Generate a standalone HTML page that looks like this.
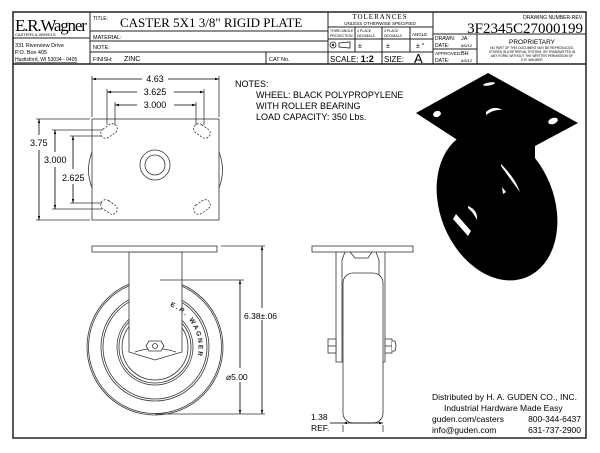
<!DOCTYPE html>
<html><head><meta charset="utf-8"><style>
html,body{margin:0;padding:0;background:#fff;}
svg{display:block;font-family:"Liberation Sans",Arial,sans-serif;}
</style></head><body>
<svg width="600" height="453" viewBox="0 0 600 453" xmlns="http://www.w3.org/2000/svg">
<defs>
<marker id="a" viewBox="0 0 10 10" refX="10" refY="5" markerWidth="7" markerHeight="5" orient="auto-start-reverse"><path d="M0,2 L10,5 L0,8z" fill="#000"/></marker>
<path id="wp" d="M170,306 A44,44 0 0 1 196,362" fill="none"/>
</defs>
<rect width="600" height="453" fill="#fff"/>
<rect x="13" y="12" width="573" height="426" fill="none" stroke="#222" stroke-width="1.5"/>
<g stroke="#222" stroke-width="1" fill="none">
<line x1="13" y1="64" x2="586" y2="64" stroke-width="1.5"/>
<line x1="90" y1="12" x2="90" y2="64"/>
<line x1="328" y1="12" x2="328" y2="64"/>
<line x1="433" y1="12" x2="433" y2="64"/>
<line x1="90" y1="31" x2="328" y2="31"/>
<line x1="90" y1="41" x2="328" y2="41"/>
<line x1="90" y1="52" x2="328" y2="52"/>
<line x1="266" y1="52" x2="266" y2="64"/>
<line x1="328" y1="27" x2="433" y2="27"/>
<line x1="328" y1="39" x2="433" y2="39"/>
<line x1="328" y1="52" x2="433" y2="52"/>
<line x1="355" y1="27" x2="355" y2="52"/>
<line x1="382" y1="27" x2="382" y2="64"/>
<line x1="410" y1="27" x2="410" y2="52"/>
<line x1="433" y1="34" x2="586" y2="34"/>
<line x1="477" y1="34" x2="477" y2="64"/>
<line x1="433" y1="49" x2="477" y2="49"/>
<line x1="13" y1="38" x2="90" y2="38"/>
</g>
<text x="15" y="31" font-family="Liberation Serif,serif" font-size="17" letter-spacing="-1.2">E.R.Wagner</text>
<text x="15" y="36" font-size="4">CASTERS &amp; WHEELS</text>
<text x="15" y="47" font-size="5.5">331 Riverview Drive</text>
<text x="15" y="54" font-size="5.5">P.O. Box 405</text>
<text x="15" y="61" font-size="5" text-decoration="underline">Hustisford, WI 53034 - 0405</text>
<text x="93" y="20" font-size="5">TITLE:</text>
<text x="120" y="27" font-family="Liberation Serif,serif" font-size="13">CASTER 5X1 3/8" RIGID PLATE</text>
<text x="93" y="39" font-size="5.5">MATERIAL:</text>
<text x="93" y="49" font-size="5.5">NOTE:</text>
<text x="93" y="61" font-size="5.5">FINISH:</text>
<text x="124" y="61" font-size="7">ZINC</text>
<text x="269" y="61" font-size="5.5">CAT  No.</text>
<text x="380" y="19" font-family="Liberation Serif,serif" font-size="7" text-anchor="middle" letter-spacing="1">TOLERANCES</text>
<text x="380" y="25" font-size="4.5" text-anchor="middle">UNLESS OTHERWISE SPECIFIED</text>
<text x="330" y="32" font-size="3.5">THIRD ANGLE</text><text x="330" y="37" font-size="3.5">PROJECTION</text>
<text x="357" y="32" font-size="3.5">2 PLACE</text><text x="357" y="37" font-size="3.5">DECIMALS</text>
<text x="384" y="32" font-size="3.5">3 PLACE</text><text x="384" y="37" font-size="3.5">DECIMALS</text>
<text x="412" y="36" font-size="4.5">ANGLE</text>
<circle cx="333" cy="45" r="3" fill="none" stroke="#222" stroke-width="0.8"/><circle cx="333" cy="45" r="1.2" fill="#222"/>
<path d="M339,43 L350,42 L350,48 L339,47z" fill="none" stroke="#222" stroke-width="0.8"/>
<text x="358" y="48" font-size="7">±</text><text x="386" y="48" font-size="7">±</text><text x="416" y="48" font-size="7">± °</text>
<text x="330" y="62" font-size="8">SCALE: <tspan font-weight="bold" font-size="9">1:2</tspan></text>
<text x="384" y="62" font-size="8">SIZE:</text>
<text x="414" y="63" font-size="13">A</text>
<text x="583" y="19" font-size="5" text-anchor="end">DRAWING NUMBER-REV.</text>
<text x="583" y="33" font-family="Liberation Serif,serif" font-size="15" text-anchor="end">3F2345C27000199</text>
<text x="435" y="40" font-size="5">DRAWN:</text><text x="461" y="40" font-size="5.5">JA</text>
<text x="435" y="47" font-size="5">DATE:</text><text x="461" y="47" font-size="4">8/6/12</text>
<text x="435" y="55" font-size="4.5">APPROVED:</text><text x="461" y="55" font-size="5.5">BH</text>
<text x="435" y="62" font-size="5">DATE:</text><text x="461" y="62" font-size="4">8/6/12</text>
<text x="532" y="44" font-size="6.5" text-anchor="middle">PROPRIETARY</text>
<text x="532" y="49" font-size="3.2" text-anchor="middle">NO PART OF THIS DOCUMENT MAY BE REPRODUCED,</text>
<text x="532" y="53" font-size="3.2" text-anchor="middle">STORED IN A RETRIEVAL SYSTEM, OR TRANSMITTED IN</text>
<text x="532" y="57" font-size="3.2" text-anchor="middle">ANY FORM, WITHOUT THE WRITTEN PERMISSION OF</text>
<text x="532" y="61" font-size="3.2" text-anchor="middle">E.R. WAGNER</text>

<g stroke="#333" stroke-width="0.8" fill="none">
<rect x="92" y="119" width="127" height="101"/>
<path d="M92,152 Q85,170 92,188"/><path d="M219,152 Q226,170 219,188"/>
<circle cx="155" cy="165" r="15"/><circle cx="155" cy="165" r="10"/>
<g stroke-dasharray="2,1.5">
<rect x="100" y="126" width="18" height="10" rx="5" transform="rotate(-35 109 131)"/>
<rect x="193" y="126" width="18" height="10" rx="5" transform="rotate(35 202 131)"/>
<rect x="100" y="202" width="18" height="10" rx="5" transform="rotate(35 109 207)"/>
<rect x="193" y="202" width="18" height="10" rx="5" transform="rotate(-35 202 207)"/>
</g>
<line x1="92" y1="76" x2="92" y2="117"/><line x1="219" y1="76" x2="219" y2="117"/>
<line x1="107" y1="89" x2="107" y2="125"/><line x1="204" y1="89" x2="204" y2="125"/>
<line x1="115" y1="102" x2="115" y2="125"/><line x1="196" y1="102" x2="196" y2="125"/>
<line x1="36" y1="119" x2="90" y2="119"/><line x1="36" y1="220" x2="90" y2="220"/>
<line x1="52" y1="130" x2="102" y2="130"/><line x1="52" y1="209" x2="102" y2="209"/>
<line x1="70" y1="136" x2="102" y2="136"/><line x1="70" y1="203" x2="102" y2="203"/>
</g>
<g stroke="#000" stroke-width="0.8">
<line x1="92" y1="79" x2="142" y2="79" marker-start="url(#a)"/><line x1="168" y1="79" x2="219" y2="79" marker-end="url(#a)"/>
<line x1="107" y1="92" x2="137" y2="92" marker-start="url(#a)"/><line x1="174" y1="92" x2="204" y2="92" marker-end="url(#a)"/>
<line x1="115" y1="105" x2="137" y2="105" marker-start="url(#a)"/><line x1="174" y1="105" x2="196" y2="105" marker-end="url(#a)"/>
<line x1="39" y1="119" x2="39" y2="135" marker-start="url(#a)"/><line x1="39" y1="150" x2="39" y2="220" marker-end="url(#a)"/>
<line x1="55" y1="130" x2="55" y2="152" marker-start="url(#a)"/><line x1="55" y1="167" x2="55" y2="209" marker-end="url(#a)"/>
<line x1="73" y1="136" x2="73" y2="169" marker-start="url(#a)"/><line x1="73" y1="184" x2="73" y2="203" marker-end="url(#a)"/>
</g>
<g font-size="9">
<text x="155" y="82" text-anchor="middle">4.63</text>
<text x="155" y="95" text-anchor="middle">3.625</text>
<text x="155" y="108" text-anchor="middle">3.000</text>
<text x="30" y="146">3.75</text>
<text x="44" y="163">3.000</text>
<text x="62" y="181">2.625</text>
</g>
<g font-size="9">
<text x="235" y="87">NOTES:</text>
<text x="256" y="98">WHEEL: BLACK POLYPROPYLENE</text>
<text x="256" y="109">WITH ROLLER BEARING</text>
<text x="256" y="120">LOAD CAPACITY: 350 Lbs.</text>
</g>
<g stroke="#333" stroke-width="0.8" fill="none">
<circle cx="155" cy="347" r="68"/><circle cx="155" cy="347" r="66.5"/>
<circle cx="155" cy="347" r="54"/><circle cx="155" cy="347" r="52"/>
<circle cx="155" cy="347" r="38"/><circle cx="155" cy="347" r="36"/><circle cx="155" cy="347" r="33"/>
<path d="M129,252 L129,352 L155,360 L182,352 L182,252 Z" fill="#fff"/>
<path d="M135,352 Q155,345 176,352"/>
<rect x="92" y="246" width="125" height="6" fill="#fff"/>
<path d="M149,341 L161,341 L164,346 L161,351 L149,351 L146,346Z" fill="#fff"/>
<circle cx="155" cy="346" r="2.5"/>
<line x1="160" y1="280" x2="244" y2="280"/>
<line x1="221" y1="246" x2="265" y2="246"/>
<line x1="155" y1="414" x2="265" y2="414"/>
</g>
<text font-size="6.5" font-weight="bold" fill="#222" letter-spacing="1.8"><textPath href="#wp">E.R. WAGNER</textPath></text>
<g stroke="#000" stroke-width="0.8">
<line x1="262" y1="246" x2="262" y2="308" marker-start="url(#a)"/><line x1="262" y1="320" x2="262" y2="414" marker-end="url(#a)"/>
<line x1="240" y1="280" x2="240" y2="368" marker-start="url(#a)"/><line x1="240" y1="382" x2="240" y2="414" marker-end="url(#a)"/>
</g>
<text x="244" y="319" font-size="8.5">6.38±.06</text>
<text x="226" y="380" font-size="8.5">⌀5.00</text>
<g stroke="#333" stroke-width="0.8" fill="#fff">
<path d="M336,252 L336,362 L342,362 L342,260 L345,252"/>
<path d="M385,252 L385,362 L379,362 L379,260 L376,252"/>
<rect x="343" y="273" width="40" height="150" rx="10"/>
<rect x="312" y="246" width="101" height="6"/>
<path d="M350,252 L355,258 L368,258 L372,252" fill="none"/>
<rect x="328" y="339" width="8" height="14"/><line x1="328" y1="346" x2="336" y2="346"/>
<rect x="385" y="339" width="7" height="14"/><line x1="385" y1="346" x2="392" y2="346"/>
<path d="M392,341 L395,341 L396,346 L395,351 L392,351" />
<line x1="343" y1="425" x2="343" y2="432"/><line x1="383" y1="425" x2="383" y2="432"/>
</g>
<g stroke="#000" stroke-width="0.8"><line x1="330" y1="423" x2="343" y2="423"/><line x1="343" y1="423" x2="383" y2="423" marker-start="url(#a)" marker-end="url(#a)"/></g>
<text x="311" y="420" font-size="8.5">1.38</text>
<text x="311" y="431" font-size="8.5">REF.</text>
<g fill="#000">
<ellipse cx="497" cy="205" rx="57" ry="78" transform="rotate(-22 497 205)"/>
<path d="M488,73 L578,123 L535,146 L535,165 L460,165 L459,141 L416,113 Z"/>
</g>
<g fill="#fff">
<ellipse cx="437" cy="114" rx="4" ry="3" transform="rotate(-20 437 114)"/>
<ellipse cx="553" cy="121" rx="5" ry="3" transform="rotate(-20 553 121)"/>
<ellipse cx="489" cy="84" rx="6" ry="1.5" transform="rotate(-10 489 84)"/>
<path d="M486,112 Q494,105 502,110 Q494,109 486,115z"/>
<path d="M501,164 Q515,178 520,192 Q511,180 501,166z"/>
<path d="M502,187 L506,192 L503,194z"/>
<path d="M456,214 L471,231 L468,236 L453,219z"/>
<path d="M468,206 Q478,210 477,220 Q473,212 468,208z"/>
</g>
<g font-size="8.5">
<text x="432" y="400">Distributed by   H. A. GUDEN CO., INC.</text>
<text x="444" y="411">Industrial Hardware Made Easy</text>
<text x="432" y="422">guden.com/casters</text><text x="581" y="422" text-anchor="end">800-344-6437</text>
<text x="432" y="433">info@guden.com</text><text x="581" y="433" text-anchor="end">631-737-2900</text>
</g>
</svg>
</body></html>
